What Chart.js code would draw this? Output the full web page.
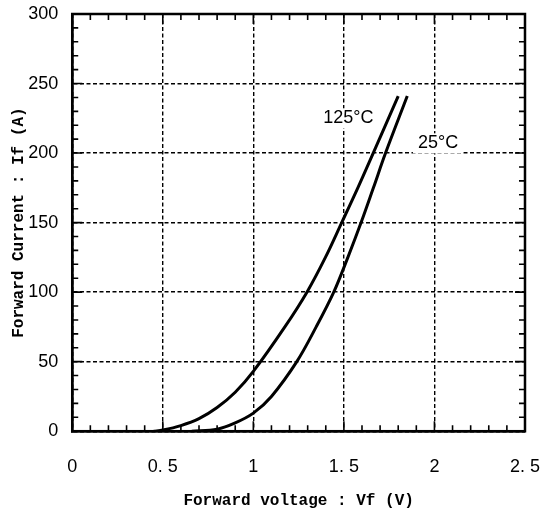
<!DOCTYPE html>
<html>
<head>
<meta charset="utf-8">
<script src="https://cdn.jsdelivr.net/npm/chart.js@4/dist/chart.umd.min.js"></script>
<style>
  html, body { margin: 0; padding: 0; background: #fff; overflow: hidden; }
  #wrap { width: 540px; height: 511px; }
</style>
</head>
<body>
<div id="wrap"><canvas id="vfChart"></canvas></div>
<script>
// Forward voltage Vf (V) vs forward current If (A)
const vf125 = [0.45, 0.5, 0.6, 0.7, 0.8, 0.9, 1.0, 1.174, 1.296, 1.398, 1.488, 1.577, 1.662, 1.8];
const if125 = [0, 0.8, 4, 9, 17, 28, 43, 75, 100, 125, 150, 175, 200, 241];

const vf25 = [0.66, 0.8, 0.9, 1.0, 1.1, 1.24, 1.347, 1.444, 1.522, 1.595, 1.663, 1.73, 1.85];
const if25 = [0, 1.5, 6, 13, 25, 50, 75, 100, 125, 150, 175, 200, 241];

const seriesNames = ["125°C", "25°C"];
// where each name sits, in axis units (V, A)
const nameVf = [1.525, 2.02];
const nameIf = [225, 207];

const xTicks = [0, 0.5, 1, 1.5, 2, 2.5];
const yTicks = [0, 50, 100, 150, 200, 250, 300];
const xMinorStep = 0.1;
const yMinorStep = 10;

const TICK_FONT = "'Liberation Sans', Arial, sans-serif";
const TITLE_FONT = "'Liberation Mono', 'DejaVu Sans Mono', monospace";

function toPoints(xs, ys) {
  return xs.map((x, i) => ({ x: x, y: ys[i] }));
}

// frame, inner ticks and curve names
const framePlugin = {
  id: "frame",
  afterDraw(chart) {
    const { ctx, chartArea: a, scales } = chart;
    const xs = scales.x, ys = scales.y;
    ctx.save();
    ctx.strokeStyle = "#000";
    ctx.lineWidth = 2.5;
    ctx.strokeRect(a.left, a.top, a.right - a.left, a.bottom - a.top);

    ctx.lineWidth = 1.6;
    ctx.beginPath();
    for (let v = 0; v <= xTicks[xTicks.length - 1] + 1e-9; v += xMinorStep) {
      const major = xTicks.some(t => Math.abs(t - v) < 1e-6);
      const len = major ? 10 : 6;
      const px = xs.getPixelForValue(v);
      ctx.moveTo(px, a.bottom); ctx.lineTo(px, a.bottom - len);
      ctx.moveTo(px, a.top); ctx.lineTo(px, a.top + len);
    }
    for (let v = 0; v <= yTicks[yTicks.length - 1] + 1e-9; v += yMinorStep) {
      const major = yTicks.some(t => Math.abs(t - v) < 1e-6);
      const len = major ? 10 : 6;
      const py = ys.getPixelForValue(v);
      ctx.moveTo(a.left, py); ctx.lineTo(a.left + len, py);
      ctx.moveTo(a.right, py); ctx.lineTo(a.right - len, py);
    }
    ctx.stroke();

    ctx.font = "18px " + TICK_FONT;
    ctx.textAlign = "center";
    ctx.textBaseline = "middle";
    seriesNames.forEach((name, i) => {
      const px = xs.getPixelForValue(nameVf[i]);
      const py = ys.getPixelForValue(nameIf[i]);
      const w = ctx.measureText(name).width;
      ctx.fillStyle = "#fff";
      ctx.fillRect(px - w / 2 - 5, py - 10, w + 10, 20);
      ctx.fillStyle = "#000";
      ctx.fillText(name, px, py);
    });
    ctx.restore();
  }
};

new Chart(document.getElementById("vfChart").getContext("2d"), {
  type: "line",
  data: {
    datasets: [
      { label: seriesNames[0], data: toPoints(vf125, if125) },
      { label: seriesNames[1], data: toPoints(vf25, if25) },
    ].map(d => Object.assign(d, {
      borderColor: "#000",
      borderWidth: 3,
      pointRadius: 0,
      fill: false,
      tension: 0.35,
    })),
  },
  options: {
    responsive: true,
    maintainAspectRatio: false,
    animation: false,
    layout: { padding: { left: 0, top: 14, right: 0, bottom: 0 } },
    plugins: {
      legend: { display: false },
      tooltip: { enabled: false },
    },
    scales: {
      x: {
        type: "linear",
        min: 0,
        max: 2.5,
        afterBuildTicks: (s) => { s.ticks = xTicks.map(v => ({ value: v })); },
        ticks: {
          color: "#000",
          font: { family: TICK_FONT, size: 18 },
          padding: 0,
          maxRotation: 0,
          autoSkip: false,
          callback: (v) => String(v).replace(".", ". "),
        },
        grid: { color: "#000", lineWidth: 1.4, drawTicks: true, tickLength: 25, tickColor: "rgba(0,0,0,0)" },
        border: { display: true, color: "#000", width: 2.5, dash: [4, 2.5] },
        title: {
          display: true,
          text: "Forward voltage : Vf (V)",
          color: "#000",
          font: { family: TITLE_FONT, size: 16, weight: "bold" },
          padding: { top: 14, bottom: 0 },
        },
      },
      y: {
        type: "linear",
        min: 0,
        max: 300,
        afterBuildTicks: (s) => { s.ticks = yTicks.map(v => ({ value: v })); },
        ticks: {
          color: "#000",
          font: { family: TICK_FONT, size: 18 },
          padding: 0,
          autoSkip: false,
        },
        grid: { color: "#000", lineWidth: 1.4, drawTicks: true, tickLength: 14, tickColor: "rgba(0,0,0,0)" },
        border: { display: true, color: "#000", width: 2.5, dash: [4, 2.5] },
        title: {
          display: true,
          text: "Forward Current : If (A)",
          color: "#000",
          font: { family: TITLE_FONT, size: 16, weight: "bold" },
          padding: { top: 9, bottom: 0 },
        },
      },
    },
  },
  plugins: [framePlugin],
});
</script>
</body>
</html>
